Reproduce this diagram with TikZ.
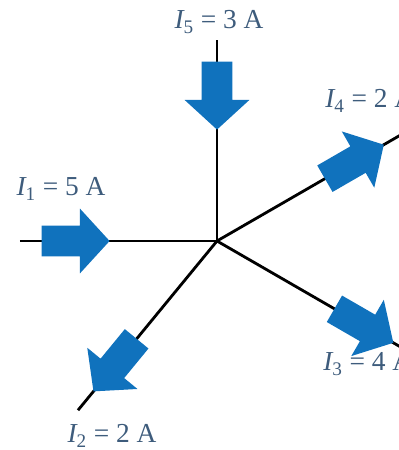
\documentclass[tikz,border=0pt]{standalone}
\usepackage{fontspec}
\setmainfont{Liberation Serif}
\usetikzlibrary{shapes.arrows,calc}
\definecolor{arrowblue}{RGB}{16,114,189}
\definecolor{labelblue}{RGB}{62,92,124}
\newcommand{\cur}[2]{{\itshape I}\textsubscript{#1} = #2 A}
\begin{document}
\begin{tikzpicture}[
        x=0.025cm,
        y=0.025cm,
        wire/.style={
            line width=2pt
        },
        current/.style={
            single arrow,
            fill=arrowblue,
            draw=none,
            minimum height=1.7cm,
            inner xsep=0pt,
            inner ysep=0.375cm,
            single arrow head extend=0.43cm,
            single arrow tip angle=95,
            anchor=tip
        },
        curlabel/.style={
            text=labelblue,
            inner sep=0pt,
            font=\fontsize{19.5}{22}\selectfont
        }
    ]

        \useasboundingbox (0,0) rectangle (399,450);

        \coordinate (j) at (217,209);
        \coordinate (e1) at ($(j)+(180:197)$);
        \coordinate (e5) at ($(j)+(90:201)$);
        \coordinate (e4) at ($(j)+(30:215)$);
        \coordinate (e3) at ($(j)+(-30:215)$);
        \coordinate (e2) at ($(j)+(230.6:219)$);

        \draw[wire] (e1) -- (j);
        \draw[wire] (e5) -- (j);
        \draw[wire] (j) -- (e4);
        \draw[wire] (j) -- (e3);
        \draw[wire] (j) -- (e2);

        \node[current, rotate=0] (a1) at ($(j)+(180:107)$) {};
        \node[current, rotate=-90] (a5) at ($(j)+(90:111)$) {};
        \node[current, rotate=30] (a4) at ($(j)+(30:193)$) {};
        \node[current, rotate=-30] (a3) at ($(j)+(-30:204)$) {};
        \node[current, rotate=230.6] (a2) at ($(j)+(230.6:195)$) {};

        \node[curlabel] (l1) at (61,261) {\cur{1}{5}};
        \node[curlabel] (l5) at (219,428) {\cur{5}{3}};
        \node[curlabel, anchor=west] (l4) at (325,349) {\cur{4}{2}};
        \node[curlabel, anchor=west] (l3) at (323,86) {\cur{3}{4}};
        \node[curlabel] (l2) at (112,14) {\cur{2}{2}};

    \end{tikzpicture}
\end{document}
